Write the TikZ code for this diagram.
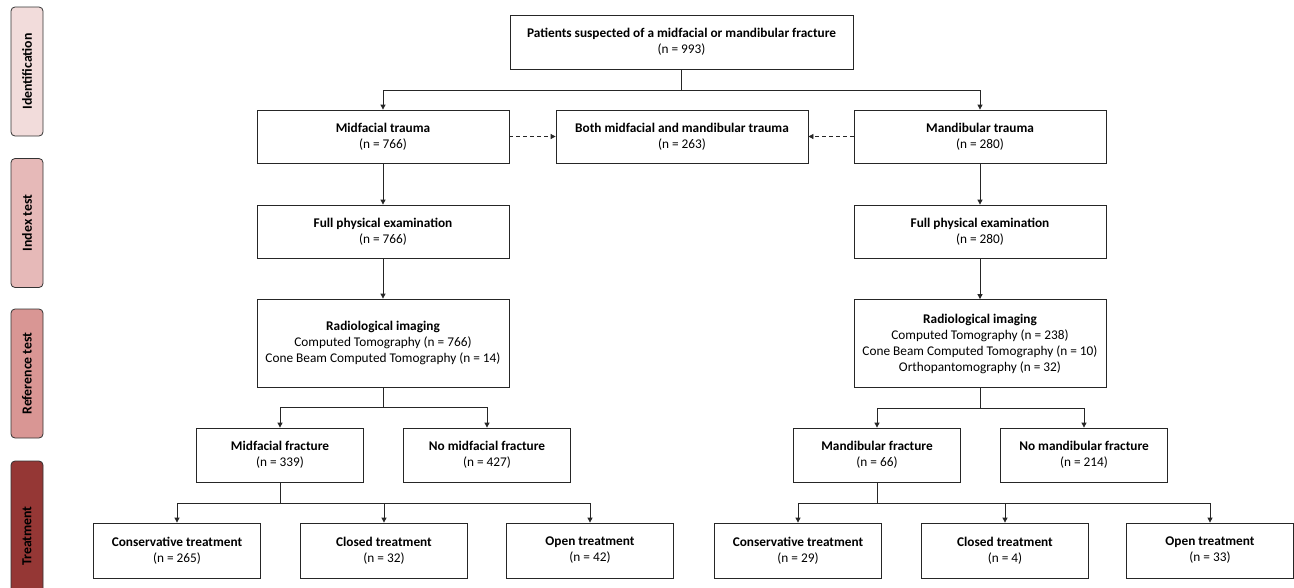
\documentclass[tikz,border=0pt]{standalone}
\usepackage{fontspec}
\setmainfont{Carlito}
\usetikzlibrary{arrows.meta}

\definecolor{stageA}{HTML}{F2DCDB}
\definecolor{stageB}{HTML}{E6B9B8}
\definecolor{stageC}{HTML}{D99694}
\definecolor{stageD}{HTML}{953735}

\begin{document}
\begin{tikzpicture}[
        x=1pt,   % 1 px = 1pt
        y=-1pt,  % y runs down, as in the picture
        box/.style={draw=black!85, line width=0.8pt, align=center, inner sep=2pt,
            font=\fontsize{13.3}{16}\selectfont},
        wide/.style={box, minimum width=252, minimum height=53},
        small/.style={box, minimum width=167, minimum height=55},
        stage/.style={draw=black!80, line width=0.8pt, rounded corners=4pt, rotate=90,
            minimum width=129, minimum height=32, font=\fontsize{13.8}{15}\selectfont\bfseries},
        link/.style={draw=black!85, line width=0.8pt},
        arr/.style={link, -{Triangle[length=5pt, width=5pt]}},
        darr/.style={arr, dash pattern=on 4pt off 3pt},
    ]

    \useasboundingbox (0,0) rectangle (1294,587);

    % Stage labels on the left
    \node[stage, fill=stageA] (stageid) at (27,71.5) {Identification};
    \node[stage, fill=stageB] (stageidx) at (27,223) {Index test};
    \node[stage, fill=stageC] (stageref) at (27,373.5) {Reference test};
    \node[stage, fill=stageD, minimum width=150] (stagetr) at (27,536) {Treatment};

    % Identification
    \node[box, minimum width=343, minimum height=54] (top) at (681.5,42)
        {\textbf{Patients suspected of a midfacial or mandibular fracture}\\(n = 993)};
    \node[wide] (midtr) at (383,136.5) {\textbf{Midfacial trauma}\\(n = 766)};
    \node[wide] (both) at (682,136.5) {\textbf{Both midfacial and mandibular trauma}\\(n = 263)};
    \node[wide] (mandtr) at (980,136.5) {\textbf{Mandibular trauma}\\(n = 280)};

    % Index test
    \node[wide] (midexam) at (383,231.5) {\textbf{Full physical examination}\\(n = 766)};
    \node[wide] (mandexam) at (980,231.5) {\textbf{Full physical examination}\\(n = 280)};

    % Reference test
    \node[wide, minimum height=88] (midimg) at (383,343)
        {\textbf{Radiological imaging}\\Computed Tomography (n = 766)\\Cone Beam Computed Tomography (n = 14)};
    \node[wide, minimum height=88] (mandimg) at (980,343.5)
        {\textbf{Radiological imaging}\\Computed Tomography (n = 238)\\Cone Beam Computed Tomography (n = 10)\\Orthopantomography (n = 32)};

    \node[small, minimum height=54] (midfx) at (280,455) {\textbf{Midfacial fracture}\\(n = 339)};
    \node[small, minimum height=54] (midnofx) at (487,455) {\textbf{No midfacial fracture}\\(n = 427)};
    \node[small, minimum height=54] (mandfx) at (877,455) {\textbf{Mandibular fracture}\\(n = 66)};
    \node[small, minimum height=54] (mandnofx) at (1084,455) {\textbf{No mandibular fracture}\\(n = 214)};

    % Treatment
    \node[small] (midcons) at (177,550.5) {\textbf{Conservative treatment}\\(n = 265)};
    \node[small] (midclosed) at (384,550.5) {\textbf{Closed treatment}\\(n = 32)};
    \node[small] (midopen) at (590,550.5) {\textbf{Open treatment}\\(n = 42)};
    \node[small] (mandcons) at (798,550.5) {\textbf{Conservative treatment}\\(n = 29)};
    \node[small] (mandclosed) at (1005,550.5) {\textbf{Closed treatment}\\(n = 4)};
    \node[small] (mandopen) at (1210,550.5) {\textbf{Open treatment}\\(n = 33)};

    % Connectors
    \draw[link] (top.south) -- ++(0,21) coordinate (split);
    \draw[arr] (split) -| (midtr.north);
    \draw[arr] (split) -| (mandtr.north);
    \draw[darr] (midtr.east) -- (both.west);
    \draw[darr] (mandtr.west) -- (both.east);

    \draw[arr] (midtr) -- (midexam);
    \draw[arr] (midexam) -- (midimg);
    \draw[arr] (mandtr) -- (mandexam);
    \draw[arr] (mandexam) -- (mandimg);

    \draw[link] (midimg.south) -- ++(0,20) coordinate (midsplit);
    \draw[arr] (midsplit) -| (midfx.north);
    \draw[arr] (midsplit) -| (midnofx.north);
    \draw[link] (mandimg.south) -- ++(0,20) coordinate (mandsplit);
    \draw[arr] (mandsplit) -| (mandfx.north);
    \draw[arr] (mandsplit) -| (mandnofx.north);

    \draw[link] (midfx.south) -- ++(0,21) coordinate (midtrsplit);
    \foreach \leaf in {midcons, midclosed, midopen} {
        \draw[arr] (midtrsplit) -| (\leaf.north);
    }
    \draw[link] (mandfx.south) -- ++(0,21) coordinate (mandtrsplit);
    \foreach \leaf in {mandcons, mandclosed, mandopen} {
        \draw[arr] (mandtrsplit) -| (\leaf.north);
    }

\end{tikzpicture}
\end{document}
